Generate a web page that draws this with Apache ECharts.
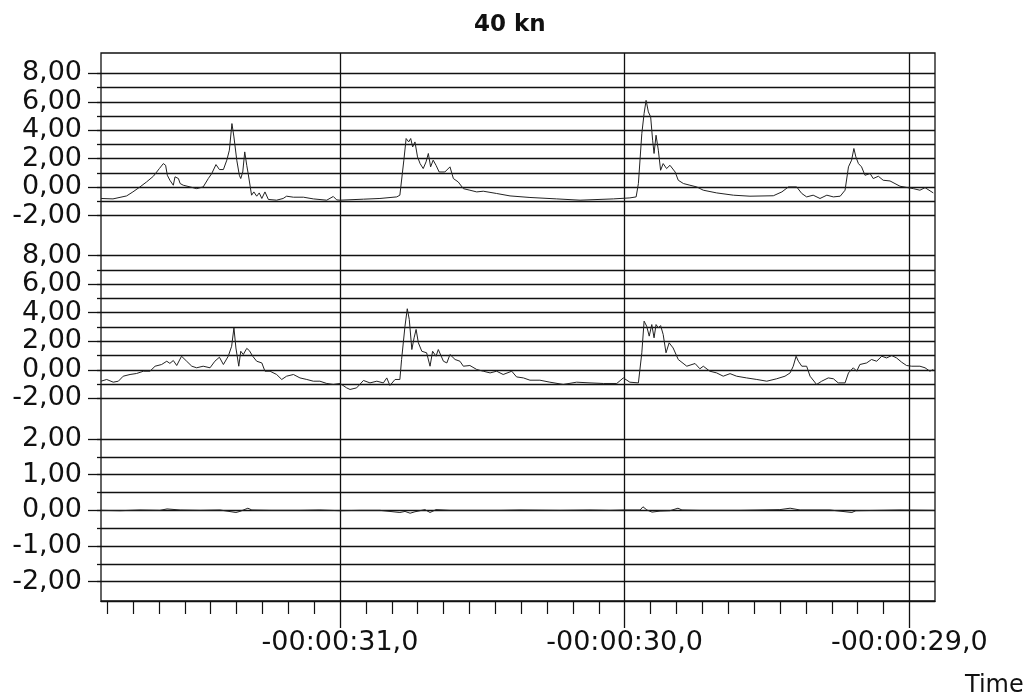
<!DOCTYPE html>
<html>
<head>
<meta charset="utf-8">
<script src="https://cdn.jsdelivr.net/npm/echarts@6/dist/echarts.min.js"></script>
<style>
html,body{margin:0;padding:0;background:#fff;}
#chart{width:1029px;height:696px;}
</style>
</head>
<body>
<div id="chart"></div>
<script>
// ---------- data ----------
const chartTitle = '40 kn';
const xAxisName = 'Time';
const timeMin = -31.84;
const timeMax = -28.91;
const xTickValues = [-31, -30, -29];
const xTickLabels = ['-00:00:31,0', '-00:00:30,0', '-00:00:29,0'];

const yTickValuesA = [-2, 0, 2, 4, 6, 8];
const yTickLabelsA = ['-2,00', '0,00', '2,00', '4,00', '6,00', '8,00'];
const yTickValuesC = [-2, -1, 0, 1, 2];
const yTickLabelsC = ['-2,00', '-1,00', '0,00', '1,00', '2,00'];

// [time (s), value]
const topSeries = [
  [-31.840,-0.79],[-31.798,-0.82],[-31.750,-0.61],[-31.728,-0.33],[-31.703,0.02],[-31.680,0.37],
  [-31.656,0.77],[-31.635,1.31],[-31.621,1.66],[-31.613,1.54],[-31.607,0.84],[-31.598,0.49],
  [-31.586,0.14],[-31.580,0.73],[-31.568,0.61],[-31.562,0.26],[-31.551,0.14],[-31.527,0.02],
  [-31.504,-0.10],[-31.481,0.02],[-31.463,0.61],[-31.451,0.96],[-31.436,1.59],[-31.424,1.24],
  [-31.410,1.24],[-31.398,1.90],[-31.389,2.60],[-31.380,4.47],[-31.373,3.53],[-31.363,1.90],
  [-31.354,0.84],[-31.349,0.61],[-31.342,1.07],[-31.335,2.48],[-31.328,1.54],[-31.323,0.96],
  [-31.317,0.84],[-31.311,-0.56],[-31.303,-0.33],[-31.293,-0.63],[-31.284,-0.40],[-31.275,-0.79],
  [-31.264,-0.33],[-31.252,-0.86],[-31.223,-0.91],[-31.200,-0.79],[-31.188,-0.63],[-31.164,-0.70],
  [-31.129,-0.70],[-31.094,-0.82],[-31.047,-0.91],[-31.024,-0.65],[-31.012,-0.89],[-31.000,-0.91],
  [-30.918,-0.84],[-30.860,-0.79],[-30.801,-0.68],[-30.790,-0.56],[-30.776,1.90],[-30.768,3.42],
  [-30.759,3.18],[-30.752,3.42],[-30.745,2.83],[-30.737,3.18],[-30.728,2.13],[-30.719,1.66],
  [-30.708,1.31],[-30.698,1.78],[-30.690,2.37],[-30.682,1.43],[-30.673,1.90],[-30.663,1.54],
  [-30.652,1.07],[-30.632,1.07],[-30.614,1.43],[-30.602,0.61],[-30.585,0.37],[-30.567,-0.10],
  [-30.544,-0.21],[-30.520,-0.33],[-30.497,-0.28],[-30.450,-0.44],[-30.403,-0.61],[-30.333,-0.72],
  [-30.239,-0.82],[-30.157,-0.91],[-30.040,-0.82],[-29.982,-0.75],[-29.960,-0.68],[-29.952,0.26],
  [-29.940,3.77],[-29.932,5.18],[-29.925,6.10],[-29.917,5.29],[-29.909,4.94],[-29.902,3.30],
  [-29.897,2.37],[-29.890,3.65],[-29.882,2.60],[-29.874,1.19],[-29.865,1.66],[-29.853,1.31],
  [-29.841,1.54],[-29.823,1.07],[-29.812,0.49],[-29.794,0.26],[-29.771,0.14],[-29.747,0.02],
  [-29.724,-0.21],[-29.677,-0.40],[-29.618,-0.56],[-29.560,-0.63],[-29.478,-0.60],[-29.448,-0.33],
  [-29.425,0.02],[-29.396,0.02],[-29.378,-0.44],[-29.361,-0.68],[-29.338,-0.56],[-29.314,-0.79],
  [-29.290,-0.56],[-29.267,-0.68],[-29.243,-0.63],[-29.226,-0.21],[-29.214,1.43],[-29.203,1.90],
  [-29.195,2.72],[-29.188,2.13],[-29.179,1.66],[-29.168,1.43],[-29.156,0.84],[-29.138,0.96],
  [-29.127,0.61],[-29.109,0.77],[-29.092,0.49],[-29.068,0.44],[-29.033,0.07],[-28.986,-0.10],
  [-28.963,-0.21],[-28.945,-0.03],[-28.916,-0.40]
];

const middleSeries = [
  [-31.840,-0.80],[-31.820,-0.68],[-31.797,-0.87],[-31.779,-0.80],[-31.762,-0.45],[-31.738,-0.33],
  [-31.715,-0.26],[-31.691,-0.10],[-31.668,-0.10],[-31.650,0.25],[-31.627,0.37],[-31.609,0.60],
  [-31.598,0.45],[-31.586,0.65],[-31.574,0.30],[-31.557,0.95],[-31.539,0.60],[-31.521,0.25],
  [-31.504,0.14],[-31.481,0.25],[-31.457,0.14],[-31.440,0.60],[-31.424,0.88],[-31.410,0.37],
  [-31.393,0.95],[-31.381,1.65],[-31.373,2.94],[-31.366,1.53],[-31.356,0.25],[-31.349,1.30],
  [-31.340,1.07],[-31.328,1.50],[-31.319,1.35],[-31.307,0.95],[-31.293,0.60],[-31.275,0.48],
  [-31.264,-0.10],[-31.246,-0.10],[-31.223,-0.33],[-31.205,-0.68],[-31.188,-0.45],[-31.164,-0.33],
  [-31.141,-0.57],[-31.117,-0.68],[-31.094,-0.80],[-31.071,-0.80],[-31.047,-0.96],[-31.024,-1.03],
  [-31.000,-0.96],[-30.977,-1.27],[-30.965,-1.38],[-30.942,-1.27],[-30.918,-0.75],[-30.895,-0.92],
  [-30.871,-0.80],[-30.848,-0.92],[-30.836,-0.57],[-30.825,-1.10],[-30.807,-0.68],[-30.790,-0.68],
  [-30.784,0.72],[-30.772,3.06],[-30.764,4.28],[-30.757,3.53],[-30.748,1.42],[-30.740,2.24],
  [-30.733,2.83],[-30.725,1.89],[-30.713,1.30],[-30.696,1.19],[-30.684,0.25],[-30.675,1.30],
  [-30.663,0.95],[-30.655,1.42],[-30.637,0.60],[-30.625,0.48],[-30.614,1.07],[-30.596,0.72],
  [-30.579,0.60],[-30.567,0.25],[-30.544,0.30],[-30.520,0.02],[-30.497,-0.10],[-30.473,-0.22],
  [-30.450,-0.10],[-30.427,-0.33],[-30.397,-0.10],[-30.380,-0.50],[-30.356,-0.57],[-30.333,-0.73],
  [-30.298,-0.73],[-30.263,-0.87],[-30.216,-1.03],[-30.169,-0.87],[-30.122,-0.92],[-30.075,-0.96],
  [-30.028,-0.96],[-30.005,-0.57],[-29.982,-0.87],[-29.952,-0.92],[-29.940,1.19],[-29.932,3.41],
  [-29.923,3.06],[-29.914,2.36],[-29.905,3.17],[-29.897,2.24],[-29.890,3.17],[-29.882,2.94],
  [-29.874,3.10],[-29.865,2.48],[-29.855,1.19],[-29.844,1.89],[-29.830,1.53],[-29.812,0.72],
  [-29.782,0.25],[-29.753,0.44],[-29.736,0.07],[-29.724,0.25],[-29.701,-0.10],[-29.677,-0.22],
  [-29.654,-0.45],[-29.630,-0.27],[-29.607,-0.45],[-29.572,-0.57],[-29.536,-0.68],[-29.501,-0.80],
  [-29.466,-0.63],[-29.437,-0.45],[-29.419,-0.22],[-29.408,0.25],[-29.398,0.95],[-29.390,0.60],
  [-29.378,0.25],[-29.361,0.25],[-29.349,-0.45],[-29.326,-1.03],[-29.308,-0.80],[-29.285,-0.57],
  [-29.267,-0.63],[-29.250,-0.92],[-29.226,-0.92],[-29.214,-0.22],[-29.197,0.14],[-29.185,-0.10],
  [-29.174,0.37],[-29.150,0.48],[-29.133,0.72],[-29.115,0.60],[-29.097,0.95],[-29.080,0.83],
  [-29.062,1.00],[-29.045,0.83],[-29.027,0.53],[-29.010,0.30],[-28.992,0.25],[-28.963,0.25],
  [-28.945,0.14],[-28.928,-0.10],[-28.916,0.02]
];

const bottomSeries = [
  [-31.840,0.00],[-31.773,-0.01],[-31.703,0.01],[-31.633,0.00],[-31.608,0.04],[-31.562,0.01],
  [-31.492,0.00],[-31.422,0.01],[-31.366,-0.06],[-31.352,-0.03],[-31.324,0.06],[-31.310,0.01],
  [-31.246,0.00],[-31.141,0.00],[-31.071,0.01],[-31.000,-0.01],[-30.930,0.00],[-30.860,0.00],
  [-30.790,-0.06],[-30.772,-0.03],[-30.754,-0.08],[-30.737,-0.04],[-30.702,0.02],[-30.684,-0.06],
  [-30.663,0.02],[-30.614,0.00],[-30.544,0.00],[-30.438,0.00],[-30.368,0.01],[-30.227,0.00],
  [-30.122,0.01],[-30.052,0.00],[-30.002,0.01],[-29.946,0.01],[-29.936,0.10],[-29.922,0.01],
  [-29.904,-0.05],[-29.876,-0.02],[-29.841,-0.01],[-29.813,0.06],[-29.799,0.01],[-29.736,0.00],
  [-29.595,0.00],[-29.455,0.02],[-29.419,0.06],[-29.384,0.01],[-29.279,0.01],[-29.202,-0.06],
  [-29.188,-0.01],[-29.103,0.00],[-29.033,0.01],[-28.914,0.00]
];

// ---------- chart ----------
const FONT = 'DejaVu Sans';
const INK = '#111';
function lookup(values, labels) {
  return function (v) {
    for (let i = 0; i < values.length; i++) {
      if (Math.abs(values[i] - v) < 1e-6) return labels[i];
    }
    return '';
  };
}

const L = 101, R = 94;
const grids = [
  {left: L, right: R, top: 53, bottom: 95, show: true, borderColor: INK, borderWidth: 1.3, backgroundColor: 'transparent'},
  {left: 340, right: 119.7, top: 53, bottom: 95},
  {left: L, right: R, top: 73.3, bottom: 480.3},
  {left: L, right: R, top: 255.7, bottom: 297.7},
  {left: L, right: R, top: 439, bottom: 114.3}
].map(g => Object.assign({outerBoundsMode: 'none', containLabel: false}, g));

const xAxes = [
  {
    gridIndex: 0, type: 'value', min: timeMin, max: timeMax, minInterval: 1, maxInterval: 1,
    axisLine: {show: true, lineStyle: {color: INK, width: 1.3}},
    axisTick: {show: false},
    minorTick: {show: true, splitNumber: 11, length: 13, lineStyle: {color: INK, width: 1.2}},
    axisLabel: {show: false}, splitLine: {show: false}, minorSplitLine: {show: false}
  },
  {
    gridIndex: 1, type: 'value', min: -31, max: -29, interval: 1,
    axisLine: {show: false},
    axisTick: {show: true, length: 27, lineStyle: {color: INK, width: 1.3}},
    axisLabel: {show: true, margin: 28, fontSize: 27, fontFamily: FONT, color: INK,
      formatter: lookup(xTickValues, xTickLabels)},
    splitLine: {show: true, showMinLine: true, showMaxLine: true, lineStyle: {color: INK, width: 1.3}}
  },
  {gridIndex: 2, type: 'value', min: timeMin, max: timeMax, show: false},
  {gridIndex: 3, type: 'value', min: timeMin, max: timeMax, show: false},
  {gridIndex: 4, type: 'value', min: timeMin, max: timeMax, show: false}
];

function labelAxis(gi, min, max, interval, values, labels) {
  return {
    gridIndex: gi, type: 'value', position: 'left', min: min, max: max, interval: interval,
    axisLine: {show: false},
    axisTick: {show: true, length: 13, lineStyle: {color: INK, width: 1.3}},
    axisLabel: {show: true, margin: 19, fontSize: 27, fontFamily: FONT, color: INK,
      showMinLabel: true, showMaxLabel: true, formatter: lookup(values, labels)},
    splitLine: {show: false}
  };
}
function gridAxis(gi, min, max, interval) {
  return {
    gridIndex: gi, type: 'value', position: 'left', min: min, max: max, interval: interval,
    axisLine: {show: false},
    axisTick: {show: true, length: 4, lineStyle: {color: INK, width: 1.3}},
    axisLabel: {show: false},
    splitLine: {show: true, showMinLine: true, showMaxLine: true, lineStyle: {color: INK, width: 1.4}}
  };
}

const yAxes = [
  {gridIndex: 0, type: 'value', min: 0, max: 1, show: false},
  {gridIndex: 1, type: 'value', min: 0, max: 1, show: false},
  gridAxis(2, -2, 8, 1),
  labelAxis(2, -2, 8, 2, yTickValuesA, yTickLabelsA),
  gridAxis(3, -2, 8, 1),
  labelAxis(3, -2, 8, 2, yTickValuesA, yTickLabelsA),
  gridAxis(4, -2, 2, 0.5),
  labelAxis(4, -2, 2, 1, yTickValuesC, yTickLabelsC)
];

function lineSeries(xi, yi, data) {
  return {
    type: 'line', xAxisIndex: xi, yAxisIndex: yi, data: data,
    showSymbol: false, symbol: 'none', animation: false, clip: false, silent: true,
    lineStyle: {color: '#222', width: 1}
  };
}

const option = {
  backgroundColor: '#fff',
  animation: false,
  title: [
    {text: chartTitle, left: 469, top: 9,
      textStyle: {fontFamily: FONT, fontSize: 23, fontWeight: 'bold', color: INK}},
    {text: xAxisName, left: 960, top: 669,
      textStyle: {fontFamily: FONT, fontSize: 24, fontWeight: 'normal', color: INK}}
  ],
  grid: grids,
  xAxis: xAxes,
  yAxis: yAxes,
  series: [
    lineSeries(2, 2, topSeries),
    lineSeries(3, 4, middleSeries),
    lineSeries(4, 6, bottomSeries)
  ]
};

const chart = echarts.init(document.getElementById('chart'), null, {renderer: 'canvas'});
chart.setOption(option);
</script>
</body>
</html>
